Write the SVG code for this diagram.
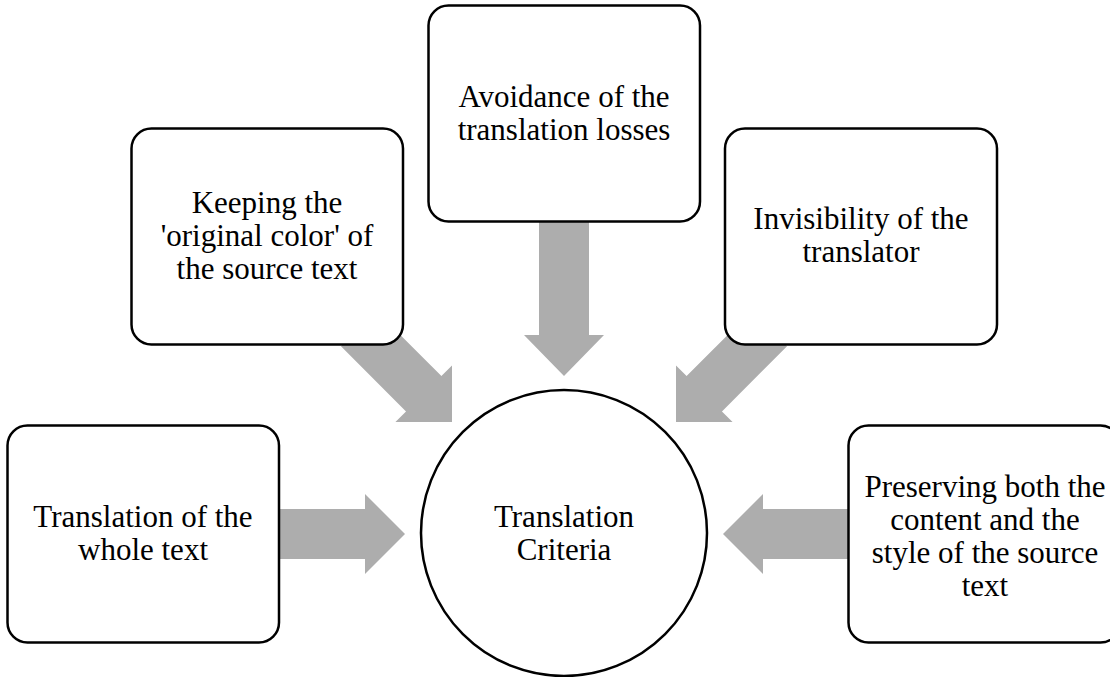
<svg xmlns="http://www.w3.org/2000/svg" width="1110" height="677" viewBox="0 0 1110 677">
<style>
.box{fill:#fff;stroke:#000;stroke-width:2.5}
.arr{fill:#adadad;stroke:none}
.t{font-family:"Liberation Serif","Times New Roman",serif;font-size:31px;fill:#000;text-anchor:middle}
</style>
<rect width="1110" height="677" fill="#fff"/>
<g id="connectors">
<path class="arr" d="M279,509 H365 V494 L405,534 L365,574 V559 H279 Z"/>
<path class="arr" d="M848,509 H763 V494 L723,534 L763,574 V559 H848 Z"/>
<path class="arr" d="M539,222 V335 H524 L564,376 L604,335 H589 V222 Z"/>
<path class="arr" transform="translate(452,422) rotate(45)" d="M-132,-25 H-40 V-40 L0,0 L-40,40 V25 H-132 Z"/>
<path class="arr" transform="translate(676,422) rotate(135)" d="M-132,-25 H-40 V-40 L0,0 L-40,40 V25 H-132 Z"/>
</g>
<g id="center">
<circle cx="564" cy="533" r="143" fill="#fff" stroke="#000" stroke-width="2.5"/>
<text class="t" x="564" y="527">Translation</text>
<text class="t" x="564" y="560">Criteria</text>
</g>
<g id="n1">
<rect class="box" x="7.5" y="425.5" width="271.5" height="217" rx="20"/>
<text class="t" x="143" y="527">Translation of the</text>
<text class="t" x="143" y="560">whole text</text>
</g>
<g id="n2">
<rect class="box" x="131.5" y="128.5" width="271.5" height="216" rx="20"/>
<text class="t" x="267" y="213">Keeping the</text>
<text class="t" x="267" y="246">'original color' of</text>
<text class="t" x="267" y="279">the source text</text>
</g>
<g id="n3">
<rect class="box" x="428.5" y="5.5" width="271.5" height="216" rx="20"/>
<text class="t" x="564" y="107">Avoidance of the</text>
<text class="t" x="564" y="140">translation losses</text>
</g>
<g id="n4">
<rect class="box" x="725" y="128.5" width="272" height="216" rx="20"/>
<text class="t" x="861" y="229">Invisibility of the</text>
<text class="t" x="861" y="262">translator</text>
</g>
<g id="n5">
<rect class="box" x="848.5" y="425.5" width="272" height="217" rx="20"/>
<text class="t" x="985" y="497">Preserving both the</text>
<text class="t" x="985" y="530">content and the</text>
<text class="t" x="985" y="563">style of the source</text>
<text class="t" x="985" y="596">text</text>
</g>
</svg>
